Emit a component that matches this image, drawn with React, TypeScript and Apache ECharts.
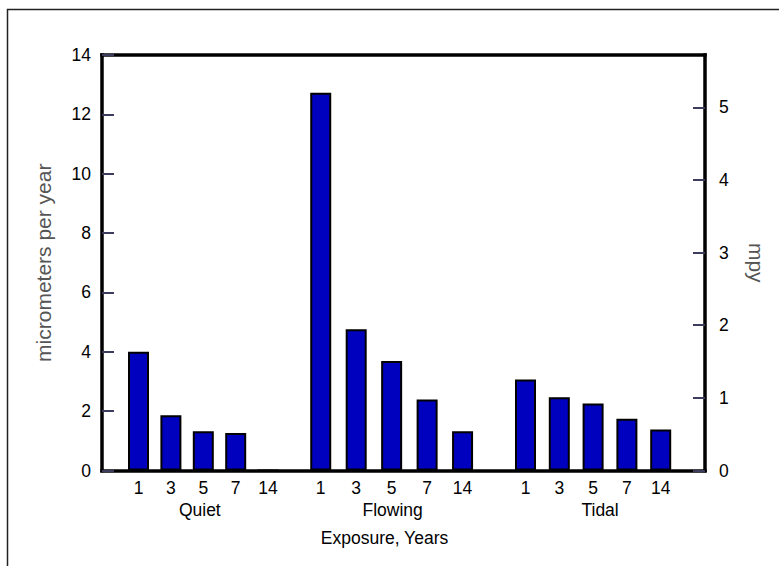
import React, { useEffect, useRef } from "react";
import * as echarts from "echarts";

const categories = ["1", "3", "5", "7", "14"];
const groups = ["Quiet", "Flowing", "Tidal"];
const quiet = [4.0, 1.86, 1.32, 1.26, 0];
const flowing = [12.73, 4.76, 3.69, 2.39, 1.32];
const tidal = [3.07, 2.47, 2.26, 1.74, 1.38];
const groupValues = [quiet, flowing, tidal];
const leftMin = 0;
const leftMax = 14;
const leftInterval = 2;
const rightMin = 0;
const rightMax = 5.72;
const rightInterval = 1;
const xTitle = "Exposure, Years";
const leftTitle = "micrometers per year";
const rightTitle = "mpy";

const FONT = "'Liberation Sans', Arial, Helvetica, sans-serif";
const TOP = 55;
const HEIGHT = 415.5;
const subGrids = [
  { left: 122.3, width: 162, pad: [0, 7, 0, 0] },
  { left: 303, width: 177.3, pad: [0, 0, 0, 2] },
  { left: 508.6, width: 169, pad: [0, 0, 0, 14] },
];

export default function App() {
  const ref = useRef<HTMLDivElement>(null);
  useEffect(() => {
    if (!ref.current) return;
    const chart = echarts.init(ref.current, null, { renderer: "svg" });
    const tickStyle = { color: "#3c3c5c", width: 2 };
    const frameLine = { show: true, onZero: false, lineStyle: { color: "#000", width: 3.5, cap: "square" } };
    const labelStyle = { fontFamily: FONT, fontSize: 17.5, color: "#000" };
    const frameAxis = (position: string) => ({
      gridIndex: 0,
      type: "value",
      position,
      min: 0,
      max: 1,
      axisLine: frameLine,
      axisTick: { show: false },
      axisLabel: { show: false },
      splitLine: { show: false },
    });
    chart.setOption({
      animation: false,
      backgroundColor: "#fff",
      grid: [
        { left: 102, top: TOP, width: 603, height: HEIGHT },
        ...subGrids.map((g) => ({ left: g.left, width: g.width, top: TOP, height: HEIGHT })),
      ],
      xAxis: [
        frameAxis("bottom"),
        frameAxis("top"),
        ...groups.map((g, i) => ({
          gridIndex: i + 1,
          type: "category",
          data: categories,
          name: g,
          nameLocation: "middle",
          nameGap: 29,
          nameTextStyle: { ...labelStyle, padding: subGrids[i].pad },
          axisLine: { show: false },
          axisTick: { show: false },
          axisLabel: { ...labelStyle, margin: 8 },
        })),
      ],
      yAxis: [
        {
          gridIndex: 0,
          type: "value",
          position: "left",
          min: leftMin,
          max: leftMax,
          interval: leftInterval,
          name: leftTitle,
          nameLocation: "middle",
          nameRotate: 90,
          nameGap: 48,
          nameTextStyle: { fontFamily: FONT, fontSize: 21, color: "#555" },
          axisLine: frameLine,
          splitLine: { show: false },
          axisTick: { show: true, inside: true, length: 12, lineStyle: tickStyle },
          axisLabel: { ...labelStyle, margin: 11 },
        },
        {
          gridIndex: 0,
          type: "value",
          position: "right",
          min: rightMin,
          max: rightMax,
          interval: rightInterval,
          name: rightTitle,
          nameLocation: "middle",
          nameRotate: -90,
          nameGap: 41,
          nameTextStyle: { fontFamily: FONT, fontSize: 21, color: "#555" },
          axisLine: frameLine,
          splitLine: { show: false },
          axisTick: { show: true, inside: true, length: 12, lineStyle: tickStyle },
          axisLabel: {
            ...labelStyle,
            margin: 14,
            showMaxLabel: false,
            formatter: (v: number) => (Number.isInteger(v) ? String(v) : ""),
          },
        },
        ...groups.map((g, i) => ({
          gridIndex: i + 1,
          type: "value",
          min: leftMin,
          max: leftMax,
          show: false,
        })),
      ],
      series: groups.map((g, i) => ({
        name: g,
        type: "bar",
        xAxisIndex: i + 2,
        yAxisIndex: i + 2,
        data: groupValues[i],
        barWidth: 21,
        z: 1,
        itemStyle: { color: "#0000BF", borderColor: "#000", borderWidth: 2 },
      })),
      graphic: [
        {
          type: "rect",
          shape: { x: 7.5, y: 9.5, width: 800, height: 600 },
          style: { fill: "none", stroke: "#222", lineWidth: 1.5 },
          silent: true,
        },
        {
          type: "text",
          x: 384.5,
          y: 538,
          style: {
            text: xTitle,
            font: `17.5px ${FONT}`,
            fill: "#000",
            textAlign: "center",
            textVerticalAlign: "middle",
          },
        },
      ],
    });
    return () => chart.dispose();
  }, []);
  return (
    <div
      ref={ref}
      style={{ position: "absolute", left: 0, top: 0, width: 779, height: 566 }}
    />
  );
}
